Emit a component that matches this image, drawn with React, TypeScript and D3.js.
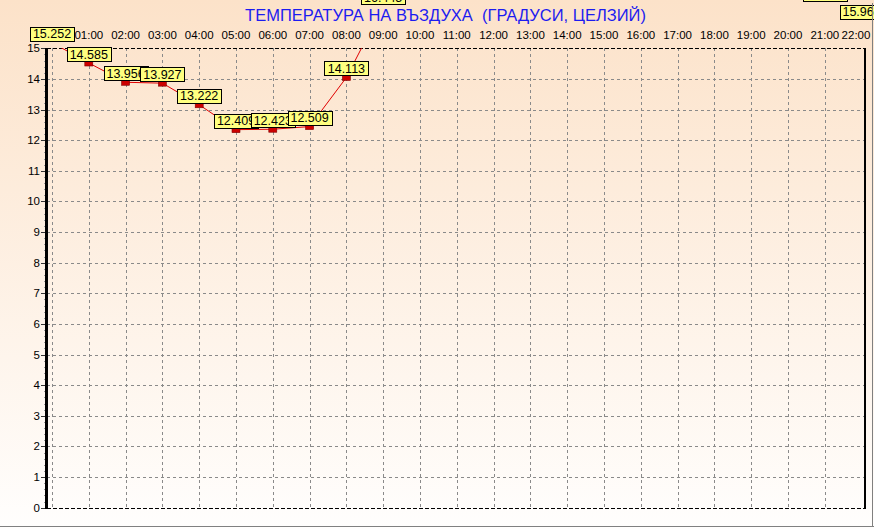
import React from "react";
import * as d3 from "d3";

const hours = [0, 1, 2, 3, 4, 5, 6, 7, 8, 9, 21, 22];
const temps = [15.252, 14.585, 13.956, 13.927, 13.222, 12.409, 12.423, 12.509, 14.113, 16.445, 16.54, 15.965];
const hourTicks = d3.range(1, 23);
const yTicks = d3.range(0, 16);
const title = "ТЕМПЕРАТУРА НА ВЪЗДУХА  (ГРАДУСИ, ЦЕЛЗИЙ)";

const W = 874;
const H = 529;
const plotL = 47;
const plotR = 865;
const plotT = 48;
const plotB = 508;

export default function App() {
  const x = d3.scaleLinear().domain([0, 22]).range([52, 861.6]);
  const y = d3.scaleLinear().domain([0, 15]).range([507.7, 48.3]);
  const pts = hours.map((h, i) => ({ h, v: temps[i] }));
  const line = d3
    .line<{ h: number; v: number }>()
    .x((d) => x(d.h))
    .y((d) => y(d.v) + 2);
  const minor = d3.range(0, 15.01, 0.2);
  const font = "Arial, 'Liberation Sans', sans-serif";
  return (
    <div style={{ position: "absolute", left: 0, top: 0 }}>
      <svg width={W} height={H} style={{ display: "block" }} fontFamily={font}>
        <defs>
          <linearGradient id="bg" x1="0" y1="0" x2="0" y2="1">
            <stop offset="0" stopColor="#FCE2C9" />
            <stop offset="1" stopColor="#FFFEFD" />
          </linearGradient>
          <clipPath id="plot">
            <rect x={plotL} y={plotT} width={plotR - plotL} height={plotB - plotT} />
          </clipPath>
        </defs>
        <rect x={0} y={0} width={W} height={H} fill="url(#bg)" />
        {/* grid */}
        {yTicks.slice(1, 15).map((t) => (
          <line key={"gy" + t} x1={plotL} x2={plotR} y1={Math.round(y(t)) + 0.5} y2={Math.round(y(t)) + 0.5}
            stroke="#8a8a8a" strokeDasharray="3,3" />
        ))}
        {d3.range(0, 22).map((t) => (
          <line key={"gx" + t} x1={Math.round(x(t)) + 0.5} x2={Math.round(x(t)) + 0.5} y1={plotT} y2={plotB}
            stroke="#8a8a8a" strokeDasharray="3,3" />
        ))}
        {/* frame */}
        <line x1={plotL} x2={plotR} y1={plotT + 0.5} y2={plotT + 0.5} stroke="#000" strokeDasharray="4,2" />
        <line x1={plotL} x2={plotR} y1={plotB + 0.5} y2={plotB + 0.5} stroke="#000" strokeDasharray="4,2" />
        <line x1={plotR} x2={plotR} y1={plotT} y2={plotB + 1} stroke="#000" strokeWidth={2} />
        <line x1={plotL - 0.5} x2={plotL - 0.5} y1={plotT} y2={plotB + 1} stroke="#000" strokeWidth={3} />
        {/* y ticks */}
        {minor.map((t, i) => (
          <line key={"mt" + i} x1={plotL - 3} x2={plotL - 2} y1={Math.round(y(t)) + 0.5} y2={Math.round(y(t)) + 0.5}
            stroke="#999" />
        ))}
        {yTicks.map((t) => (
          <g key={"yt" + t}>
            <line x1={plotL - 6} x2={plotL - 2} y1={Math.round(y(t)) + 0.5} y2={Math.round(y(t)) + 0.5} stroke="#333" />
            <text x={40} y={y(t)} dy="0.35em" textAnchor="end" fontSize={11.5} fill="#000">{t}</text>
          </g>
        ))}
        {/* x tick labels */}
        {hourTicks.map((h) => (
          <text key={"xt" + h} x={Math.min(x(h), 856)} y={35} dy="0.35em" textAnchor="middle" fontSize={11.5} fill="#000">
            {d3.format("02d")(h) + ":00"}
          </text>
        ))}
        {/* title */}
        <text x={445.5} y={15} dy="0.35em" textAnchor="middle" fontSize={16.5} fill="#1C1CF0"
          style={{ whiteSpace: "pre" }}>{title}</text>
        {/* series */}
        <g clipPath="url(#plot)">
          <path d={line(pts) || ""} fill="none" stroke="#E00000" strokeWidth={1} />
          {pts.map((p, i) => (
            <rect key={"m" + i} x={x(p.h) - 4} y={y(p.v)} width={8} height={5} fill="#CC0000" stroke="#800000" strokeWidth={0.6} />
          ))}
        </g>
        {pts.map((p, i) => (
          <g key={"lb" + i}>
            <rect x={Math.round(x(p.h) - 22) + 0.5} y={Math.round(y(p.v) - 14) + 0.5} width={44} height={14}
              fill="#FFFF80" stroke="#000" strokeWidth={1} />
            <text x={x(p.h)} y={y(p.v) - 7} dy="0.36em" textAnchor="middle" fontSize={12.5} fill="#000">
              {d3.format(".3f")(p.v)}
            </text>
          </g>
        ))}
        {/* window frame */}
        <line x1={0} x2={874} y1={526.5} y2={526.5} stroke="#808080" />
        <line x1={872.5} x2={872.5} y1={3} y2={527} stroke="#808080" />
      </svg>
    </div>
  );
}
